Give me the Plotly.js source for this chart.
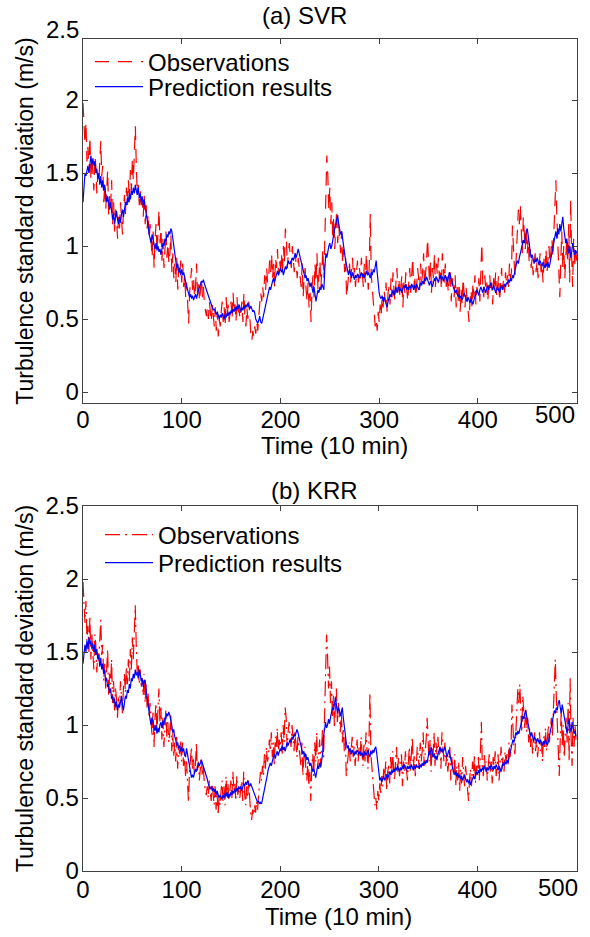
<!DOCTYPE html>
<html>
<head>
<meta charset="utf-8">
<script src="https://cdn.plot.ly/plotly-3.0.1.min.js"></script>
<style>html,body{margin:0;padding:0;background:#fff;}#chart{width:590px;height:937px;}</style>
</head>
<body>
<div id="chart"></div>
<script>
// Observed turbulence standard deviation (m/s), one value per 10-min step
const observations = [
1.98,1.82,1.70,1.85,1.58,1.68,1.50,1.75,1.45,1.62,
1.52,1.38,1.62,1.55,1.36,1.50,1.44,1.60,1.72,1.48,
1.55,1.30,1.42,1.25,1.38,1.52,1.20,1.35,1.28,1.45,
1.15,1.30,1.10,1.25,1.18,1.05,1.20,1.12,1.30,1.15,
1.08,1.25,1.35,1.22,1.40,1.28,1.45,1.30,1.52,1.38,
1.60,1.45,1.70,1.82,1.55,1.35,1.42,1.28,1.38,1.25,
1.32,1.20,1.35,1.15,1.28,1.12,1.22,1.05,1.15,1.00,
0.92,1.10,0.85,1.05,1.15,0.95,1.08,1.25,1.02,1.12,
0.90,1.05,0.85,0.98,1.10,0.92,1.02,0.88,0.95,1.08,
0.82,0.95,0.78,0.88,0.75,0.92,0.70,0.85,0.80,0.90,
0.75,0.88,0.72,0.80,0.65,0.75,0.58,0.47,0.68,0.80,
0.85,0.70,0.78,0.65,0.72,0.88,0.68,0.75,0.62,0.70,
0.78,0.65,0.72,0.60,0.55,0.52,0.58,0.50,0.62,0.55,
0.48,0.60,0.52,0.45,0.58,0.42,0.55,0.38,0.50,0.45,
0.55,0.62,0.48,0.58,0.45,0.65,0.52,0.60,0.48,0.55,
0.62,0.50,0.68,0.55,0.60,0.48,0.65,0.52,0.58,0.50,
0.55,0.62,0.48,0.68,0.52,0.45,0.58,0.50,0.62,0.45,
0.40,0.35,0.42,0.38,0.45,0.40,0.48,0.42,0.55,0.60,
0.68,0.62,0.72,0.65,0.80,0.70,0.85,0.75,0.78,0.90,
0.82,0.95,0.78,0.88,0.72,0.92,0.85,0.98,0.80,0.90,
0.85,0.95,0.80,1.00,0.88,1.12,1.05,0.85,0.95,1.02,
0.92,0.85,1.00,0.90,0.82,0.95,0.88,0.78,0.92,0.85,
0.80,0.72,0.88,0.65,0.78,0.85,0.70,0.62,0.75,0.58,
0.68,0.48,0.72,0.80,0.65,0.88,0.75,0.95,0.70,0.82,
0.90,0.72,0.85,0.98,0.78,1.10,1.35,1.62,1.48,1.25,
1.40,1.15,1.30,1.05,1.20,0.98,1.12,1.25,1.02,1.15,
1.05,0.95,1.10,0.88,0.98,0.82,0.92,0.65,0.72,0.80,
0.88,0.75,0.82,0.92,0.78,0.85,0.72,0.80,0.90,0.75,
0.85,0.78,0.92,0.80,0.72,0.88,0.75,0.95,0.82,0.70,
0.88,1.22,0.80,0.72,0.65,0.55,0.45,0.50,0.42,0.55,
0.48,0.60,0.52,0.65,0.58,0.70,0.62,0.75,0.55,0.68,
0.72,0.60,0.78,0.65,0.82,0.70,0.62,0.75,0.85,0.68,
0.78,0.65,0.72,0.80,0.58,0.75,0.68,0.82,0.70,0.62,
0.75,0.85,0.68,0.78,0.92,0.70,0.80,0.65,0.72,0.85,
0.78,0.70,0.88,0.75,0.82,0.95,0.72,0.80,0.90,1.05,
0.82,0.75,0.90,0.68,0.85,0.78,0.95,0.72,0.88,0.80,
0.92,0.78,0.85,0.70,0.95,0.82,0.75,0.88,0.72,0.80,
0.68,0.75,0.85,0.62,0.78,0.70,0.65,0.80,0.58,0.72,
0.62,0.75,0.55,0.70,0.60,0.78,0.65,0.58,0.72,0.62,
0.55,0.48,0.62,0.70,0.58,0.75,0.65,0.80,0.60,0.72,
0.68,0.78,0.62,0.85,1.02,0.72,0.65,0.80,0.70,0.75,
0.62,0.72,0.80,0.68,0.75,0.60,0.78,0.70,0.82,0.65,
0.72,0.80,0.62,0.75,0.85,0.70,0.78,0.68,0.82,0.75,
0.80,0.72,0.88,0.78,0.82,1.14,0.92,0.85,0.80,0.95,
1.05,1.25,1.15,1.28,1.10,0.95,1.20,1.05,0.98,1.12,
0.95,1.05,0.88,0.98,0.85,0.92,0.80,0.88,0.95,0.82,
0.90,0.78,0.85,0.95,0.82,0.88,0.75,0.92,0.85,0.98,
0.82,0.90,1.00,0.88,0.95,1.05,0.92,1.15,1.28,1.45,
1.20,1.05,0.80,0.65,0.90,1.10,0.85,1.00,0.78,0.95,
1.05,0.88,1.15,0.75,1.32,0.92,0.72,1.05,0.85,1.00,
0.90];

// SVR prediction results
const predSVR = [
1.30,1.45,1.50,1.48,1.52,1.55,1.50,1.58,1.62,1.56,
1.60,1.55,1.58,1.50,1.53,1.46,1.50,1.42,1.48,1.40,
1.45,1.38,1.42,1.35,1.30,1.34,1.28,1.25,1.30,1.22,
1.18,1.22,1.15,1.20,1.24,1.18,1.15,1.20,1.16,1.22,
1.25,1.20,1.26,1.30,1.28,1.33,1.30,1.36,1.32,1.38,
1.35,1.40,1.36,1.42,1.38,1.35,1.40,1.33,1.36,1.30,
1.34,1.28,1.32,1.25,1.22,1.18,1.12,1.08,1.05,1.02,
1.08,1.05,1.00,0.98,1.02,0.97,1.00,0.96,0.98,0.94,
0.98,1.02,1.00,1.05,1.03,1.08,1.06,1.10,1.08,1.12,
1.10,1.05,0.98,0.92,0.88,0.85,0.88,0.82,0.85,0.80,
0.84,0.80,0.82,0.78,0.75,0.72,0.70,0.68,0.65,0.67,
0.64,0.66,0.63,0.65,0.67,0.64,0.68,0.70,0.72,0.74,
0.76,0.75,0.77,0.74,0.72,0.70,0.68,0.66,0.63,0.62,
0.60,0.58,0.56,0.57,0.55,0.53,0.55,0.52,0.50,0.53,
0.51,0.54,0.52,0.50,0.53,0.51,0.54,0.52,0.55,0.53,
0.56,0.54,0.57,0.55,0.58,0.56,0.59,0.57,0.60,0.58,
0.55,0.58,0.56,0.59,0.57,0.60,0.58,0.61,0.59,0.57,
0.59,0.57,0.55,0.56,0.54,0.50,0.48,0.47,0.49,0.52,
0.48,0.47,0.50,0.53,0.56,0.58,0.62,0.65,0.68,0.72,
0.70,0.74,0.76,0.78,0.75,0.78,0.80,0.83,0.80,0.82,
0.85,0.82,0.84,0.80,0.83,0.86,0.84,0.88,0.90,0.88,
0.88,0.90,0.92,0.90,0.93,0.95,0.92,0.96,0.98,0.95,
0.92,0.88,0.85,0.82,0.80,0.78,0.80,0.76,0.78,0.74,
0.72,0.75,0.70,0.68,0.72,0.65,0.62,0.66,0.70,0.68,
0.72,0.70,0.74,0.72,0.70,0.85,0.95,0.92,0.98,1.00,
1.02,0.98,1.00,1.05,1.08,1.12,1.15,1.18,1.21,1.15,
1.10,1.08,1.10,1.06,1.02,0.95,0.90,0.86,0.82,0.80,
0.84,0.80,0.78,0.82,0.79,0.77,0.80,0.78,0.81,0.79,
0.78,0.80,0.82,0.79,0.81,0.78,0.80,0.83,0.80,0.82,
0.80,0.78,0.82,0.80,0.84,0.82,0.86,0.90,0.82,0.74,
0.68,0.65,0.64,0.66,0.62,0.65,0.63,0.60,0.58,0.62,
0.64,0.67,0.65,0.68,0.70,0.66,0.69,0.72,0.68,0.70,
0.72,0.69,0.71,0.68,0.70,0.73,0.71,0.74,0.70,0.72,
0.70,0.73,0.71,0.74,0.72,0.70,0.73,0.71,0.74,0.72,
0.70,0.72,0.75,0.73,0.76,0.74,0.78,0.76,0.79,0.77,
0.75,0.73,0.76,0.74,0.72,0.75,0.78,0.76,0.79,0.77,
0.75,0.78,0.80,0.77,0.79,0.76,0.78,0.80,0.78,0.75,
0.78,0.82,0.80,0.78,0.75,0.72,0.70,0.68,0.70,0.66,
0.65,0.67,0.64,0.66,0.63,0.65,0.68,0.66,0.64,0.62,
0.65,0.63,0.61,0.64,0.62,0.60,0.63,0.65,0.67,0.70,
0.68,0.66,0.70,0.72,0.70,0.68,0.72,0.70,0.68,0.71,
0.73,0.70,0.72,0.75,0.72,0.70,0.73,0.71,0.68,0.70,
0.72,0.70,0.68,0.71,0.73,0.70,0.72,0.74,0.72,0.75,
0.74,0.77,0.75,0.78,0.76,0.80,0.78,0.82,0.85,0.88,
0.90,0.88,0.92,0.95,0.98,1.00,1.04,1.02,1.07,1.10,
1.12,1.08,1.02,0.96,0.92,0.94,0.90,0.88,0.91,0.89,
0.92,0.89,0.87,0.90,0.88,0.86,0.89,0.87,0.85,0.88,
0.86,0.89,0.85,0.88,0.92,0.95,0.98,1.02,1.06,1.10,
1.05,1.12,1.08,1.15,1.10,1.18,1.20,1.12,1.08,1.02,
1.05,0.98,0.95,1.00,0.92,0.96,1.02,0.98,0.94,0.97,
0.95];

// KRR prediction results
const predKRR = [
1.42,1.48,1.55,1.50,1.58,1.52,1.60,1.55,1.58,1.52,
1.56,1.50,1.55,1.48,1.52,1.45,1.48,1.40,1.46,1.38,
1.42,1.35,1.38,1.30,1.32,1.26,1.28,1.22,1.25,1.18,
1.20,1.15,1.18,1.12,1.16,1.10,1.14,1.12,1.16,1.20,
1.14,1.10,1.15,1.20,1.18,1.24,1.22,1.28,1.25,1.32,
1.30,1.35,1.32,1.38,1.34,1.36,1.32,1.38,1.35,1.30,
1.32,1.26,1.30,1.31,1.24,1.18,1.12,1.08,1.04,1.00,
1.05,1.02,0.98,0.96,1.00,0.94,0.98,0.95,1.00,1.02,
0.98,1.03,1.00,1.05,1.04,1.08,1.06,1.09,1.07,1.04,
1.00,0.95,0.97,0.92,0.90,0.86,0.88,0.84,0.86,0.82,
0.85,0.82,0.84,0.80,0.78,0.84,0.80,0.76,0.70,0.66,
0.64,0.66,0.64,0.67,0.70,0.68,0.72,0.74,0.72,0.75,
0.76,0.74,0.72,0.70,0.68,0.66,0.63,0.60,0.58,0.56,
0.58,0.55,0.57,0.54,0.56,0.52,0.55,0.53,0.50,0.52,
0.51,0.49,0.52,0.50,0.53,0.51,0.54,0.50,0.53,0.51,
0.54,0.52,0.55,0.53,0.56,0.54,0.57,0.55,0.58,0.56,
0.58,0.55,0.57,0.60,0.58,0.61,0.59,0.62,0.60,0.58,
0.60,0.58,0.56,0.55,0.52,0.50,0.49,0.47,0.48,0.46,
0.47,0.46,0.49,0.52,0.56,0.60,0.63,0.66,0.70,0.72,
0.74,0.72,0.76,0.78,0.80,0.77,0.80,0.82,0.79,0.82,
0.84,0.82,0.86,0.83,0.85,0.82,0.86,0.88,0.86,0.89,
0.90,0.88,0.92,0.90,0.94,0.92,0.96,0.97,0.95,0.92,
0.90,0.86,0.84,0.80,0.82,0.78,0.80,0.76,0.78,0.74,
0.72,0.74,0.70,0.68,0.70,0.66,0.64,0.68,0.72,0.70,
0.74,0.71,0.75,0.80,0.92,0.98,1.02,0.98,1.00,1.04,
1.01,1.05,1.08,1.12,1.10,1.15,1.19,1.14,1.08,1.12,
1.10,1.06,1.10,1.12,1.05,0.98,0.92,0.88,0.84,0.86,
0.82,0.84,0.80,0.83,0.81,0.79,0.82,0.80,0.83,0.81,
0.80,0.82,0.79,0.81,0.78,0.80,0.82,0.79,0.81,0.83,
0.80,0.78,0.82,0.80,0.83,0.81,0.84,0.85,0.80,0.72,
0.66,0.62,0.64,0.61,0.63,0.65,0.62,0.64,0.66,0.63,
0.65,0.68,0.66,0.69,0.67,0.70,0.68,0.71,0.69,0.72,
0.70,0.68,0.71,0.69,0.72,0.70,0.73,0.71,0.69,0.72,
0.70,0.72,0.70,0.73,0.71,0.69,0.72,0.70,0.73,0.71,
0.72,0.70,0.73,0.71,0.74,0.72,0.75,0.73,0.76,0.74,
0.78,0.82,0.80,0.85,0.82,0.78,0.80,0.77,0.79,0.76,
0.80,0.82,0.85,0.82,0.84,0.81,0.83,0.85,0.82,0.78,
0.80,0.83,0.80,0.76,0.73,0.70,0.68,0.66,0.68,0.65,
0.67,0.64,0.66,0.63,0.65,0.62,0.64,0.66,0.63,0.61,
0.63,0.60,0.62,0.59,0.61,0.63,0.65,0.63,0.66,0.68,
0.66,0.69,0.67,0.70,0.68,0.71,0.69,0.72,0.70,0.68,
0.71,0.69,0.72,0.70,0.73,0.71,0.69,0.72,0.70,0.73,
0.71,0.69,0.72,0.70,0.68,0.71,0.74,0.72,0.75,0.73,
0.76,0.74,0.77,0.79,0.82,0.86,0.90,0.88,0.92,0.95,
0.93,0.96,0.94,0.98,1.00,1.03,1.06,1.04,1.08,1.10,
1.06,1.02,0.98,0.94,0.92,0.95,0.91,0.89,0.92,0.90,
0.88,0.91,0.89,0.87,0.90,0.88,0.86,0.89,0.87,0.90,
0.88,0.86,0.89,0.92,0.95,0.98,1.02,1.06,1.10,1.08,
1.12,1.10,1.15,1.17,1.12,1.08,1.14,1.10,1.05,1.00,
0.96,0.94,1.00,1.04,0.98,0.95,1.02,0.97,0.94,0.96,
0.92];

const timeSteps = observations.map((_, i) => i);
const xTicks = [0, 100, 200, 300, 400, 500];
const xTickText = ['0', '100', '200', '300', '400', ''];
const yTicksTop = [0, 0.5, 1, 1.5, 2];
const yTicksBottom = [0, 0.5, 1, 1.5, 2, 2.5];
const titles = ['(a) SVR', '(b) KRR'];
const seriesNames = ['Observations', 'Prediction results'];
const xTitle = 'Time (10 min)';
const yTitle = 'Turbulence standard deviation (m/s)';

const FONT = 'Liberation Sans, Arial, Helvetica, sans-serif';
const FS = 24;
const AX = '#404040';
const H = 832, BOT = 871, L = 83, W = 494;
const py = v => (BOT - v) / H;   // pixel row -> paper fraction
const px = v => (v - L) / W;     // pixel column -> paper fraction

const data = [
  {x: timeSteps, y: observations, type: 'scatter', mode: 'lines', name: seriesNames[0], legendgroup: 'a1',
   line: {color: '#ff0000', width: 1.2, dash: '14px,9px'}, xaxis: 'x', yaxis: 'y', legend: 'legend'},
  {x: timeSteps, y: predSVR, type: 'scatter', mode: 'lines', name: seriesNames[1], legendgroup: 'a2',
   line: {color: '#0000ff', width: 1.2}, xaxis: 'x', yaxis: 'y', legend: 'legend2'},
  {x: timeSteps, y: observations, type: 'scatter', mode: 'lines', name: seriesNames[0], legendgroup: 'b1',
   line: {color: '#ff0000', width: 1.2, dash: '15px,5px,2px,5px'}, xaxis: 'x2', yaxis: 'y2', legend: 'legend3'},
  {x: timeSteps, y: predKRR, type: 'scatter', mode: 'lines', name: seriesNames[1], legendgroup: 'b2',
   line: {color: '#0000ff', width: 1.2}, xaxis: 'x2', yaxis: 'y2', legend: 'legend4'}
];

function xax(range, anchor, stand) {
  return {
    domain: [0, 1], range: range, anchor: anchor,
    tickmode: 'array', tickvals: xTicks, ticktext: xTickText,
    ticks: 'inside', ticklen: 5, tickwidth: 1, tickcolor: AX,
    showline: true, linecolor: AX, linewidth: 1.3, mirror: 'ticks',
    showgrid: false, zeroline: false, ticklabelstandoff: stand,
    tickfont: {family: FONT, size: FS, color: '#000'}
  };
}
function yax(domain, range, ticks, anchor) {
  return {
    domain: domain, range: range, anchor: anchor,
    tickmode: 'array', tickvals: ticks, ticktext: ticks.map(String),
    ticks: 'inside', ticklen: 5, tickwidth: 1, tickcolor: AX,
    showline: true, linecolor: AX, linewidth: 1.3, mirror: 'ticks',
    showgrid: false, zeroline: false, ticklabelstandoff: -2,
    tickfont: {family: FONT, size: FS, color: '#000'},
    title: {text: yTitle, font: {family: FONT, size: 23, color: '#000'}, standoff: 5}
  };
}
function leg(xpx, ypx) {
  return {x: px(xpx), y: py(ypx), xanchor: 'left', yanchor: 'middle', bgcolor: 'rgba(0,0,0,0)',
          borderwidth: 0, font: {family: FONT, size: FS, color: '#000'}, itemwidth: 48, tracegroupgap: 0};
}
const annFont = {family: FONT, size: FS, color: '#000'};
function ann(text, xref, x, ypx, xanchor, xshift) {
  return {text: text, xref: xref, yref: 'paper', x: x, y: py(ypx), xanchor: xanchor, yanchor: 'middle',
          xshift: xshift || 0, showarrow: false, font: annFont};
}

const layout = {
  width: 590, height: 937,
  margin: {l: L, r: 13, t: 39, b: 66},
  paper_bgcolor: '#fff', plot_bgcolor: '#fff',
  font: {family: FONT, size: FS, color: '#000'},
  showlegend: true,
  xaxis: xax([0, 500.4], 'y', -5),
  yaxis: yax([py(403), 1], [-0.075, 2.418], yTicksTop, 'x'),
  xaxis2: xax([0, 501], 'y2', -3),
  yaxis2: yax([0, py(506)], [0, 2.5], yTicksBottom, 'x2'),
  legend: leg(90, 62),
  legend2: leg(90, 87),
  legend3: leg(100, 535),
  legend4: leg(100, 563),
  annotations: [
    ann(titles[0], 'paper', px(304), 15, 'center'),
    ann(titles[1], 'paper', px(314), 490, 'center'),
    ann(xTitle, 'paper', px(334), 445, 'center'),
    ann(xTitle, 'paper', px(338), 917, 'center'),
    ann('2.5', 'paper', 0, 30, 'right', -2),
    ann('500', 'x', 500, 415, 'right'),
    ann('500', 'x2', 501, 887, 'right', 3)
  ]
};

Plotly.newPlot('chart', data, layout, {displayModeBar: false, staticPlot: true});
</script>
</body>
</html>
